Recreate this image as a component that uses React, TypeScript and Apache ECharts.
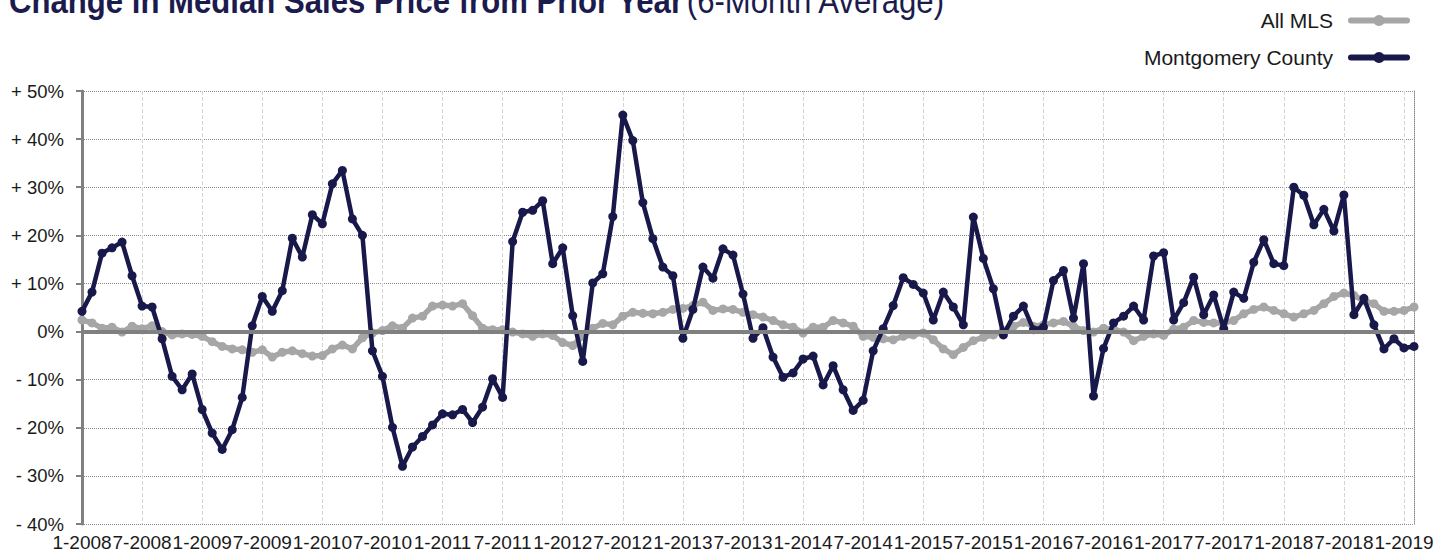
import React, { useEffect, useRef } from "react";
import * as echarts from "echarts";

const startYear = 2008;
const monthCount = 134; // 1-2008 .. 2-2019
const categories: string[] = [];
for (let i = 0; i < monthCount; i++) {
  const m = (i % 12) + 1;
  const y = startYear + Math.floor(i / 12);
  categories.push(`${m}-${y}`);
}

const allMls = [
  2.4, 1.8, 0.7, 0.9, -0.1, 1.1, 0.6, 1.2, 0.0, -0.7, -0.5, -0.6, -1.0, -2.1, -3.1, -3.6, -3.8, -4.3, -3.8, -5.3, -4.3, -4.0, -4.6,
  -5.1, -5.0, -3.6, -2.8, -3.6, -1.3, -0.3, 0.2, 1.2, 0.7, 2.8, 3.2, 5.3, 5.5, 5.3, 5.8, 3.3, 0.7, 0.4, 0.4, -0.1, -0.5,
  -1.0, -0.5, -0.8, -2.3, -2.9, -1.0, 0.7, 1.7, 1.4, 3.2, 4.0, 3.8, 3.7, 4.0, 4.6, 4.8, 5.4, 6.1, 4.4, 4.7, 4.6, 4.0,
  3.5, 3.0, 2.3, 1.4, 0.9, -0.3, 0.9, 0.9, 2.3, 1.8, 1.1, -1.0, -1.2, -1.5, -1.7, -1.0, -0.7, -0.3, -1.7, -3.6, -4.8, -3.3,
  -1.9, -1.2, -0.7, 0.2, 1.1, 1.9, 1.1, 1.4, 1.8, 2.1, 1.1, 0.2, -0.1, 0.7, 0.5, -0.1, -1.9, -1.0, -0.5, -0.8, 0.5, 0.9,
  2.3, 1.9, 1.8, 1.8, 2.3, 3.7, 4.6, 5.1, 4.4, 3.7, 3.0, 3.7, 4.4, 5.8, 7.3, 8.0, 7.5, 6.4, 5.8, 4.2, 4.2, 4.4, 5.1,
];

const montgomery = [
  4.2, 8.2, 16.3, 17.4, 18.6, 11.6, 5.3, 5.1, -1.5, -9.3, -12.1, -8.8, -16.2, -21.1, -24.5, -20.4, -13.7, 1.2, 7.3, 4.2, 8.5, 19.4, 15.5,
  24.3, 22.4, 30.7, 33.5, 23.4, 20.0, -4.0, -9.3, -19.9, -28.0, -24.0, -21.8, -19.4, -17.1, -17.3, -16.2, -18.9, -15.7, -9.8, -13.7, 18.7, 24.8,
  25.2, 27.2, 14.1, 17.4, 3.3, -6.2, 10.1, 12.0, 23.9, 45.0, 39.7, 26.8, 19.3, 13.4, 11.6, -1.4, 4.6, 13.4, 11.1, 17.2, 15.9, 7.8,
  -1.4, 0.8, -5.3, -9.5, -8.6, -5.7, -5.1, -11.1, -7.1, -12.1, -16.4, -14.3, -4.0, 0.6, 5.4, 11.2, 9.8, 8.0, 2.4, 8.2, 5.1, 1.4,
  23.8, 15.2, 8.9, -0.7, 3.2, 5.3, 0.4, 0.9, 10.6, 12.7, 2.8, 14.1, -13.4, -3.5, 1.8, 3.2, 5.3, 2.4, 15.7, 16.4, 2.4, 6.0,
  11.3, 3.5, 7.6, 0.6, 8.2, 6.9, 14.4, 19.1, 14.1, 13.7, 30.0, 28.3, 22.2, 25.4, 20.9, 28.4, 3.5, 6.9, 1.4, -3.6, -1.5, -3.4, -3.1,
];

const FONT = "'Liberation Sans', Arial, Helvetica, sans-serif";
const NAVY = "#18184a";
const GRAY = "#a6a6a6";

export default function App() {
  const ref = useRef<HTMLDivElement>(null);
  useEffect(() => {
    if (!ref.current) return;
    const chart = echarts.init(ref.current, undefined, { renderer: "svg" });
    chart.setOption({
      animation: false,
      backgroundColor: "#ffffff",
      textStyle: { fontFamily: FONT },
      graphic: [
        {
          type: "text",
          x: 9,
          y: 0.5,
          scaleX: 0.865,
          style: {
            text: "{b|Change in Median Sales Price from Prior Year} {r|(6-Month Average)}",
            verticalAlign: "middle",
            rich: {
              b: { fontFamily: FONT, fontSize: 36, fontWeight: "bold", fill: "#1b1b4d" },
              r: { fontFamily: FONT, fontSize: 36, fontWeight: "normal", fill: "#1b1b4d" },
            },
          },
        },
      ],
      legend: {
        orient: "vertical",
        right: 31,
        top: 5,
        align: "right",
        itemWidth: 56,
        itemHeight: 14,
        itemGap: 16,
        data: ["All MLS", "Montgomery County"],
        lineStyle: { width: 6, cap: "round" },
        itemStyle: { borderWidth: 0 },
        textStyle: { fontFamily: FONT, fontSize: 21, color: "#1a1a1a", padding: [0, 13, 0, 0] },
      },
      grid: { left: 82, right: 32, top: 91, bottom: 29 },
      xAxis: {
        type: "category",
        data: categories,
        boundaryGap: false,
        axisLine: { show: false },
        axisTick: { show: false },
        axisLabel: {
          interval: 5,
          showMinLabel: true,
          hideOverlap: false,
          fontFamily: FONT,
          fontSize: 19,
          color: "#1a1a1a",
          margin: 9,
        },
        splitLine: { show: true, interval: 5, lineStyle: { color: "#d4d4d4", type: "dashed", width: 1 } },
      },
      yAxis: [
        {
          type: "value",
          min: -40,
          max: 50,
          interval: 10,
          axisLine: { show: true, lineStyle: { color: "#808080", width: 3 } },
          axisTick: { show: true, length: 6, lineStyle: { color: "#808080", width: 2 } },
          axisLabel: {
            fontFamily: FONT,
            fontSize: 18.5,
            color: "#1a1a1a",
            margin: 18,
            formatter: (v: number) => (v > 0 ? `+ ${v}%` : v < 0 ? `- ${Math.abs(v)}%` : "0%"),
          },
          splitLine: { show: true, lineStyle: { color: "#8a8a8a", type: "dotted", width: 1 } },
        },
        {
          type: "value",
          position: "right",
          min: -40,
          max: 50,
          interval: 10,
          axisLine: { show: true, lineStyle: { color: "#8a8a8a", type: "dotted", width: 1 } },
          axisTick: { show: false },
          axisLabel: { show: false },
          splitLine: { show: false },
        },
      ],
      series: [
        {
          type: "line",
          name: "zero",
          data: [],
          z: 1,
          silent: true,
          markLine: {
            silent: true,
            symbol: ["none", "none"],
            label: { show: false },
            lineStyle: { color: "#808080", width: 4, type: "solid" },
            data: [{ yAxis: 0 }],
          },
        },
        {
          type: "line",
          name: "All MLS",
          data: allMls,
          z: 3,
          color: GRAY,
          symbol: "circle",
          symbolSize: 9,
          showSymbol: true,
          showAllSymbol: true,
          lineStyle: { color: GRAY, width: 5.5 },
          itemStyle: { color: GRAY },
        },
        {
          type: "line",
          name: "Montgomery County",
          data: montgomery,
          z: 4,
          color: NAVY,
          symbol: "circle",
          symbolSize: 9,
          showSymbol: true,
          showAllSymbol: true,
          lineStyle: { color: NAVY, width: 4.5 },
          itemStyle: { color: NAVY },
        },
      ],
    });
    return () => chart.dispose();
  }, []);
  return <div ref={ref} style={{ position: "fixed", left: 0, top: 0, width: 1446, height: 553 }} />;
}
